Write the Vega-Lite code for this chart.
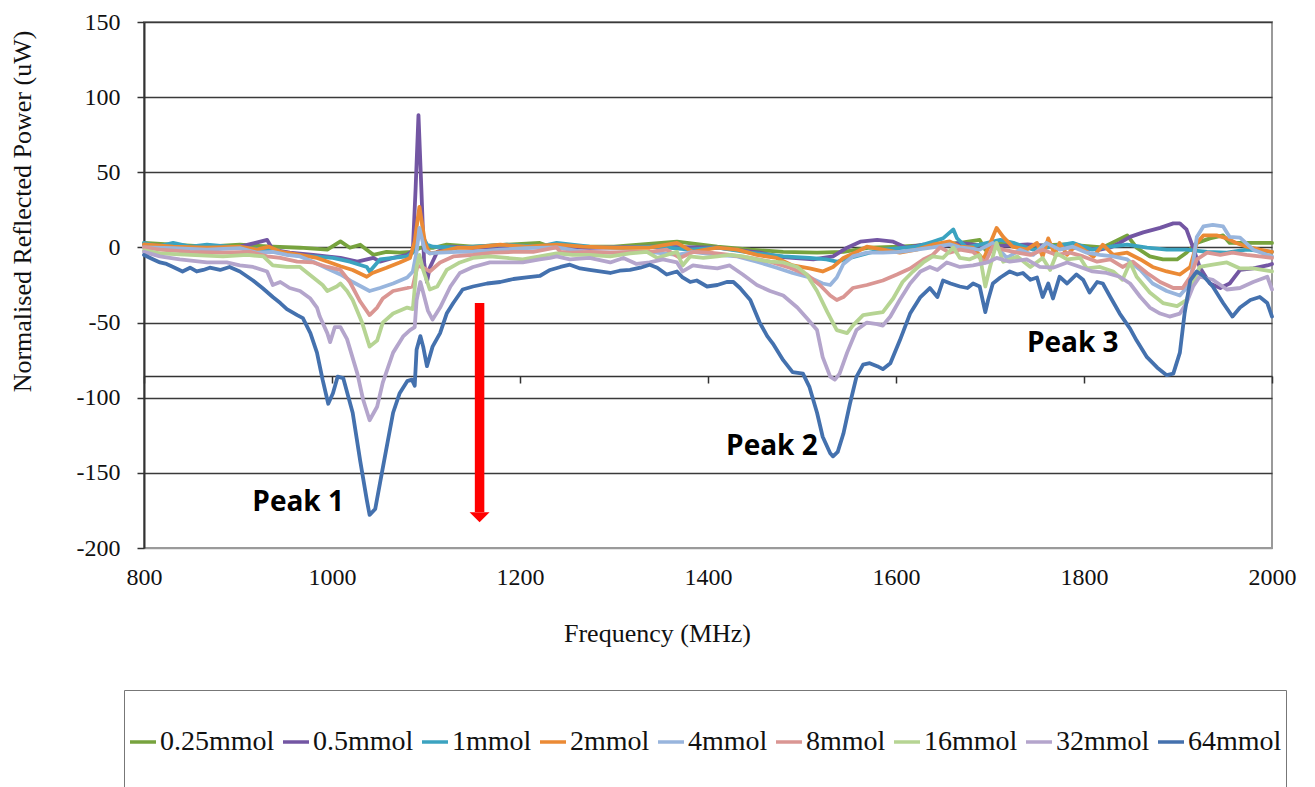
{
"$schema": "https://vega.github.io/schema/vega-lite/v6.json",
"width": 1128, "height": 526,
"autosize": {"type": "none"},
"padding": {"left": 144, "top": 22, "right": 43, "bottom": 239},
"background": "white",
"config": {"view": {"stroke": "#9a9a9a", "strokeWidth": 2}, "font": "Liberation Serif"},
"resolve": {"axis": {"x": "independent"}},
"layer": [
{
"data": {"values": [
{"s":"0.25mmol","f":800,"v":3},{"s":"0.25mmol","f":831,"v":1.8},{"s":"0.25mmol","f":867,"v":0.5},{"s":"0.25mmol","f":902,"v":1.8},{"s":"0.25mmol","f":937,"v":0.5},{"s":"0.25mmol","f":966,"v":-0.2},{"s":"0.25mmol","f":995,"v":-1.5},{"s":"0.25mmol","f":1009,"v":4},{"s":"0.25mmol","f":1019,"v":-0.2},{"s":"0.25mmol","f":1030,"v":1.8},{"s":"0.25mmol","f":1044,"v":-4.9},{"s":"0.25mmol","f":1058,"v":-2.9},{"s":"0.25mmol","f":1072,"v":-3.5},{"s":"0.25mmol","f":1086,"v":-2.9},{"s":"0.25mmol","f":1094,"v":-0.2},{"s":"0.25mmol","f":1108,"v":-0.2},{"s":"0.25mmol","f":1122,"v":1.8},{"s":"0.25mmol","f":1150,"v":0.5},{"s":"0.25mmol","f":1186,"v":1.8},{"s":"0.25mmol","f":1221,"v":3},{"s":"0.25mmol","f":1232,"v":0.5},{"s":"0.25mmol","f":1300,"v":0.5},{"s":"0.25mmol","f":1367,"v":3.8},{"s":"0.25mmol","f":1410,"v":0.5},{"s":"0.25mmol","f":1445,"v":-1.5},{"s":"0.25mmol","f":1480,"v":-2.9},{"s":"0.25mmol","f":1516,"v":-3.5},{"s":"0.25mmol","f":1544,"v":-2.9},{"s":"0.25mmol","f":1572,"v":-0.2},{"s":"0.25mmol","f":1604,"v":0.5},{"s":"0.25mmol","f":1639,"v":1.8},{"s":"0.25mmol","f":1668,"v":3},{"s":"0.25mmol","f":1689,"v":5},{"s":"0.25mmol","f":1695,"v":-1.5},{"s":"0.25mmol","f":1703,"v":3},{"s":"0.25mmol","f":1740,"v":1},{"s":"0.25mmol","f":1780,"v":2},{"s":"0.25mmol","f":1820,"v":0},{"s":"0.25mmol","f":1846,"v":8},{"s":"0.25mmol","f":1856,"v":-0.2},{"s":"0.25mmol","f":1870,"v":-6},{"s":"0.25mmol","f":1884,"v":-8},{"s":"0.25mmol","f":1899,"v":-8},{"s":"0.25mmol","f":1909,"v":-3.5},{"s":"0.25mmol","f":1920,"v":3},{"s":"0.25mmol","f":1934,"v":6},{"s":"0.25mmol","f":1948,"v":8},{"s":"0.25mmol","f":1955,"v":3},{"s":"0.25mmol","f":1970,"v":3},{"s":"0.25mmol","f":1985,"v":3},{"s":"0.25mmol","f":2000,"v":3},

{"s":"0.5mmol","f":800,"v":1.8},{"s":"0.5mmol","f":831,"v":0.5},{"s":"0.5mmol","f":867,"v":-0.2},{"s":"0.5mmol","f":902,"v":0.5},{"s":"0.5mmol","f":931,"v":5},{"s":"0.5mmol","f":937,"v":-1.5},{"s":"0.5mmol","f":955,"v":-3.5},{"s":"0.5mmol","f":980,"v":-4.9},{"s":"0.5mmol","f":1009,"v":-7},{"s":"0.5mmol","f":1027,"v":-9.5},{"s":"0.5mmol","f":1044,"v":-7},{"s":"0.5mmol","f":1051,"v":-9.5},{"s":"0.5mmol","f":1065,"v":-7},{"s":"0.5mmol","f":1080,"v":-4.9},{"s":"0.5mmol","f":1086,"v":-2},{"s":"0.5mmol","f":1089,"v":40},{"s":"0.5mmol","f":1092,"v":88},{"s":"0.5mmol","f":1095,"v":40},{"s":"0.5mmol","f":1098,"v":-10},{"s":"0.5mmol","f":1101,"v":-23},{"s":"0.5mmol","f":1104,"v":-13.5},{"s":"0.5mmol","f":1112,"v":-2.9},{"s":"0.5mmol","f":1126,"v":0.5},{"s":"0.5mmol","f":1150,"v":-0.2},{"s":"0.5mmol","f":1186,"v":0.5},{"s":"0.5mmol","f":1221,"v":0.5},{"s":"0.5mmol","f":1274,"v":-0.2},{"s":"0.5mmol","f":1338,"v":0.5},{"s":"0.5mmol","f":1410,"v":-0.2},{"s":"0.5mmol","f":1455,"v":-3.5},{"s":"0.5mmol","f":1477,"v":-6.2},{"s":"0.5mmol","f":1490,"v":-7},{"s":"0.5mmol","f":1512,"v":-8},{"s":"0.5mmol","f":1533,"v":-6},{"s":"0.5mmol","f":1548,"v":-0.2},{"s":"0.5mmol","f":1562,"v":3.8},{"s":"0.5mmol","f":1580,"v":5},{"s":"0.5mmol","f":1597,"v":3.8},{"s":"0.5mmol","f":1611,"v":-0.2},{"s":"0.5mmol","f":1629,"v":1.8},{"s":"0.5mmol","f":1647,"v":0.5},{"s":"0.5mmol","f":1668,"v":3},{"s":"0.5mmol","f":1700,"v":0.5},{"s":"0.5mmol","f":1740,"v":2},{"s":"0.5mmol","f":1780,"v":0},{"s":"0.5mmol","f":1817,"v":-1.5},{"s":"0.5mmol","f":1828,"v":0},{"s":"0.5mmol","f":1838,"v":3},{"s":"0.5mmol","f":1849,"v":7},{"s":"0.5mmol","f":1863,"v":10},{"s":"0.5mmol","f":1881,"v":13},{"s":"0.5mmol","f":1895,"v":16},{"s":"0.5mmol","f":1902,"v":16},{"s":"0.5mmol","f":1909,"v":12},{"s":"0.5mmol","f":1916,"v":0},{"s":"0.5mmol","f":1923,"v":-13},{"s":"0.5mmol","f":1934,"v":-24},{"s":"0.5mmol","f":1945,"v":-27},{"s":"0.5mmol","f":1955,"v":-24},{"s":"0.5mmol","f":1966,"v":-15},{"s":"0.5mmol","f":1980,"v":-14},{"s":"0.5mmol","f":1995,"v":-12},{"s":"0.5mmol","f":2000,"v":-11},

{"s":"1mmol","f":800,"v":3},{"s":"1mmol","f":815,"v":0.5},{"s":"1mmol","f":831,"v":3},{"s":"1mmol","f":849,"v":0.5},{"s":"1mmol","f":867,"v":1.8},{"s":"1mmol","f":902,"v":-0.2},{"s":"1mmol","f":931,"v":-1.5},{"s":"1mmol","f":955,"v":-5},{"s":"1mmol","f":980,"v":-6},{"s":"1mmol","f":1001,"v":-7},{"s":"1mmol","f":1019,"v":-9.5},{"s":"1mmol","f":1037,"v":-13},{"s":"1mmol","f":1040,"v":-16},{"s":"1mmol","f":1051,"v":-8},{"s":"1mmol","f":1065,"v":-7},{"s":"1mmol","f":1080,"v":-6},{"s":"1mmol","f":1086,"v":-3.5},{"s":"1mmol","f":1094,"v":10},{"s":"1mmol","f":1101,"v":2},{"s":"1mmol","f":1107,"v":0.5},{"s":"1mmol","f":1133,"v":-0.2},{"s":"1mmol","f":1150,"v":0.5},{"s":"1mmol","f":1186,"v":1.8},{"s":"1mmol","f":1221,"v":0.5},{"s":"1mmol","f":1239,"v":3},{"s":"1mmol","f":1274,"v":0.5},{"s":"1mmol","f":1310,"v":-0.2},{"s":"1mmol","f":1346,"v":0.5},{"s":"1mmol","f":1380,"v":-1.5},{"s":"1mmol","f":1410,"v":-0.2},{"s":"1mmol","f":1445,"v":-3.5},{"s":"1mmol","f":1480,"v":-6},{"s":"1mmol","f":1508,"v":-7},{"s":"1mmol","f":1526,"v":-8},{"s":"1mmol","f":1537,"v":-9.5},{"s":"1mmol","f":1551,"v":-7},{"s":"1mmol","f":1572,"v":-3.5},{"s":"1mmol","f":1586,"v":-1.5},{"s":"1mmol","f":1622,"v":0.5},{"s":"1mmol","f":1639,"v":3.8},{"s":"1mmol","f":1650,"v":6},{"s":"1mmol","f":1661,"v":12},{"s":"1mmol","f":1665,"v":6},{"s":"1mmol","f":1675,"v":0},{"s":"1mmol","f":1689,"v":1.8},{"s":"1mmol","f":1711,"v":5},{"s":"1mmol","f":1725,"v":3},{"s":"1mmol","f":1746,"v":-1.5},{"s":"1mmol","f":1767,"v":0.5},{"s":"1mmol","f":1788,"v":3},{"s":"1mmol","f":1809,"v":-1.5},{"s":"1mmol","f":1828,"v":0.5},{"s":"1mmol","f":1846,"v":1.8},{"s":"1mmol","f":1867,"v":-0.2},{"s":"1mmol","f":1888,"v":-1.5},{"s":"1mmol","f":1909,"v":-1.5},{"s":"1mmol","f":1931,"v":-2.9},{"s":"1mmol","f":1952,"v":-3.5},{"s":"1mmol","f":1973,"v":-1.5},{"s":"1mmol","f":2000,"v":-2.9},

{"s":"2mmol","f":800,"v":2},{"s":"2mmol","f":831,"v":0.5},{"s":"2mmol","f":867,"v":-0.2},{"s":"2mmol","f":902,"v":0.5},{"s":"2mmol","f":920,"v":-1.5},{"s":"2mmol","f":933,"v":0.5},{"s":"2mmol","f":946,"v":-3},{"s":"2mmol","f":966,"v":-5},{"s":"2mmol","f":984,"v":-7},{"s":"2mmol","f":998,"v":-10},{"s":"2mmol","f":1009,"v":-12.5},{"s":"2mmol","f":1022,"v":-15},{"s":"2mmol","f":1037,"v":-19.5},{"s":"2mmol","f":1043,"v":-17},{"s":"2mmol","f":1058,"v":-13.5},{"s":"2mmol","f":1072,"v":-10},{"s":"2mmol","f":1083,"v":-7},{"s":"2mmol","f":1088,"v":4},{"s":"2mmol","f":1091,"v":18},{"s":"2mmol","f":1093,"v":27},{"s":"2mmol","f":1096,"v":15},{"s":"2mmol","f":1099,"v":3},{"s":"2mmol","f":1104,"v":-4},{"s":"2mmol","f":1115,"v":-3},{"s":"2mmol","f":1133,"v":-0.2},{"s":"2mmol","f":1150,"v":-0.2},{"s":"2mmol","f":1179,"v":1.8},{"s":"2mmol","f":1207,"v":0.5},{"s":"2mmol","f":1239,"v":1.8},{"s":"2mmol","f":1267,"v":0.5},{"s":"2mmol","f":1303,"v":-0.2},{"s":"2mmol","f":1338,"v":-0.2},{"s":"2mmol","f":1367,"v":3},{"s":"2mmol","f":1384,"v":-3},{"s":"2mmol","f":1410,"v":-0.2},{"s":"2mmol","f":1431,"v":-1.5},{"s":"2mmol","f":1452,"v":-5},{"s":"2mmol","f":1473,"v":-7},{"s":"2mmol","f":1490,"v":-12},{"s":"2mmol","f":1508,"v":-14},{"s":"2mmol","f":1522,"v":-16},{"s":"2mmol","f":1533,"v":-13},{"s":"2mmol","f":1544,"v":-7},{"s":"2mmol","f":1558,"v":-3},{"s":"2mmol","f":1569,"v":0.5},{"s":"2mmol","f":1586,"v":-1.5},{"s":"2mmol","f":1604,"v":-3.5},{"s":"2mmol","f":1622,"v":-1.5},{"s":"2mmol","f":1639,"v":1.8},{"s":"2mmol","f":1657,"v":4},{"s":"2mmol","f":1668,"v":0.5},{"s":"2mmol","f":1682,"v":-0.2},{"s":"2mmol","f":1693,"v":-8},{"s":"2mmol","f":1703,"v":7},{"s":"2mmol","f":1707,"v":13},{"s":"2mmol","f":1714,"v":7},{"s":"2mmol","f":1724,"v":0.5},{"s":"2mmol","f":1739,"v":-1.5},{"s":"2mmol","f":1750,"v":3},{"s":"2mmol","f":1756,"v":-6},{"s":"2mmol","f":1762,"v":6},{"s":"2mmol","f":1769,"v":-4.9},{"s":"2mmol","f":1774,"v":3},{"s":"2mmol","f":1782,"v":-4.9},{"s":"2mmol","f":1792,"v":1.8},{"s":"2mmol","f":1803,"v":-2.9},{"s":"2mmol","f":1810,"v":-6.2},{"s":"2mmol","f":1820,"v":1.8},{"s":"2mmol","f":1831,"v":-4.9},{"s":"2mmol","f":1846,"v":-3.5},{"s":"2mmol","f":1860,"v":-8},{"s":"2mmol","f":1873,"v":-13},{"s":"2mmol","f":1888,"v":-16},{"s":"2mmol","f":1902,"v":-18},{"s":"2mmol","f":1913,"v":-13},{"s":"2mmol","f":1920,"v":3},{"s":"2mmol","f":1927,"v":8},{"s":"2mmol","f":1941,"v":8},{"s":"2mmol","f":1952,"v":6},{"s":"2mmol","f":1962,"v":3},{"s":"2mmol","f":1973,"v":0.5},{"s":"2mmol","f":1987,"v":-1.5},{"s":"2mmol","f":2000,"v":-3},

{"s":"4mmol","f":800,"v":0},{"s":"4mmol","f":831,"v":-0.5},{"s":"4mmol","f":867,"v":-1.5},{"s":"4mmol","f":902,"v":-0.5},{"s":"4mmol","f":920,"v":-3.5},{"s":"4mmol","f":937,"v":-3},{"s":"4mmol","f":952,"v":-5},{"s":"4mmol","f":966,"v":-6},{"s":"4mmol","f":980,"v":-9.5},{"s":"4mmol","f":995,"v":-14},{"s":"4mmol","f":1009,"v":-18},{"s":"4mmol","f":1022,"v":-23},{"s":"4mmol","f":1040,"v":-29},{"s":"4mmol","f":1051,"v":-27},{"s":"4mmol","f":1065,"v":-24},{"s":"4mmol","f":1080,"v":-20},{"s":"4mmol","f":1086,"v":-16},{"s":"4mmol","f":1090,"v":-3},{"s":"4mmol","f":1093,"v":13},{"s":"4mmol","f":1096,"v":5},{"s":"4mmol","f":1099,"v":-2},{"s":"4mmol","f":1104,"v":-4},{"s":"4mmol","f":1115,"v":-3.5},{"s":"4mmol","f":1133,"v":-3},{"s":"4mmol","f":1150,"v":-3},{"s":"4mmol","f":1179,"v":-1.5},{"s":"4mmol","f":1207,"v":-0.5},{"s":"4mmol","f":1239,"v":0},{"s":"4mmol","f":1267,"v":-3},{"s":"4mmol","f":1303,"v":-3.5},{"s":"4mmol","f":1338,"v":-3},{"s":"4mmol","f":1367,"v":-5},{"s":"4mmol","f":1384,"v":-3},{"s":"4mmol","f":1410,"v":-5},{"s":"4mmol","f":1431,"v":-6},{"s":"4mmol","f":1452,"v":-9.5},{"s":"4mmol","f":1473,"v":-13.5},{"s":"4mmol","f":1490,"v":-17},{"s":"4mmol","f":1508,"v":-20},{"s":"4mmol","f":1522,"v":-24},{"s":"4mmol","f":1530,"v":-25},{"s":"4mmol","f":1537,"v":-20},{"s":"4mmol","f":1544,"v":-11},{"s":"4mmol","f":1554,"v":-6},{"s":"4mmol","f":1569,"v":-3.5},{"s":"4mmol","f":1586,"v":-3.5},{"s":"4mmol","f":1604,"v":-3},{"s":"4mmol","f":1622,"v":-1.5},{"s":"4mmol","f":1639,"v":0},{"s":"4mmol","f":1657,"v":2},{"s":"4mmol","f":1668,"v":0},{"s":"4mmol","f":1689,"v":-1.5},{"s":"4mmol","f":1703,"v":3},{"s":"4mmol","f":1718,"v":-7},{"s":"4mmol","f":1732,"v":-1.5},{"s":"4mmol","f":1746,"v":-5},{"s":"4mmol","f":1760,"v":3},{"s":"4mmol","f":1774,"v":-1.5},{"s":"4mmol","f":1788,"v":0.5},{"s":"4mmol","f":1803,"v":-3.5},{"s":"4mmol","f":1817,"v":-5},{"s":"4mmol","f":1831,"v":-6},{"s":"4mmol","f":1846,"v":-8},{"s":"4mmol","f":1860,"v":-15},{"s":"4mmol","f":1873,"v":-24},{"s":"4mmol","f":1888,"v":-29},{"s":"4mmol","f":1902,"v":-32},{"s":"4mmol","f":1913,"v":-24},{"s":"4mmol","f":1920,"v":7},{"s":"4mmol","f":1927,"v":14},{"s":"4mmol","f":1937,"v":15},{"s":"4mmol","f":1948,"v":14},{"s":"4mmol","f":1955,"v":7},{"s":"4mmol","f":1966,"v":6.5},{"s":"4mmol","f":1980,"v":-1.5},{"s":"4mmol","f":1995,"v":-5},{"s":"4mmol","f":2000,"v":-6},

{"s":"8mmol","f":800,"v":0},{"s":"8mmol","f":817,"v":-1.5},{"s":"8mmol","f":849,"v":-3},{"s":"8mmol","f":884,"v":-3.5},{"s":"8mmol","f":913,"v":-3},{"s":"8mmol","f":931,"v":-6},{"s":"8mmol","f":945,"v":-7},{"s":"8mmol","f":963,"v":-9.5},{"s":"8mmol","f":980,"v":-10},{"s":"8mmol","f":995,"v":-13},{"s":"8mmol","f":1009,"v":-15},{"s":"8mmol","f":1019,"v":-23},{"s":"8mmol","f":1030,"v":-36},{"s":"8mmol","f":1040,"v":-45},{"s":"8mmol","f":1048,"v":-40},{"s":"8mmol","f":1054,"v":-34},{"s":"8mmol","f":1065,"v":-29},{"s":"8mmol","f":1080,"v":-27},{"s":"8mmol","f":1086,"v":-26},{"s":"8mmol","f":1091,"v":-12},{"s":"8mmol","f":1097,"v":-13.5},{"s":"8mmol","f":1104,"v":-16},{"s":"8mmol","f":1115,"v":-10},{"s":"8mmol","f":1129,"v":-6},{"s":"8mmol","f":1150,"v":-5},{"s":"8mmol","f":1171,"v":-3.5},{"s":"8mmol","f":1193,"v":-3},{"s":"8mmol","f":1214,"v":-3},{"s":"8mmol","f":1239,"v":0},{"s":"8mmol","f":1243,"v":-3},{"s":"8mmol","f":1253,"v":-3.5},{"s":"8mmol","f":1274,"v":-3},{"s":"8mmol","f":1296,"v":-3.5},{"s":"8mmol","f":1317,"v":-3},{"s":"8mmol","f":1338,"v":-3},{"s":"8mmol","f":1356,"v":-1.5},{"s":"8mmol","f":1370,"v":-7},{"s":"8mmol","f":1384,"v":-3},{"s":"8mmol","f":1402,"v":-3.5},{"s":"8mmol","f":1423,"v":-5},{"s":"8mmol","f":1445,"v":-7},{"s":"8mmol","f":1466,"v":-9.5},{"s":"8mmol","f":1487,"v":-13.5},{"s":"8mmol","f":1505,"v":-18},{"s":"8mmol","f":1519,"v":-25},{"s":"8mmol","f":1530,"v":-32},{"s":"8mmol","f":1537,"v":-35},{"s":"8mmol","f":1544,"v":-33},{"s":"8mmol","f":1554,"v":-27},{"s":"8mmol","f":1569,"v":-25},{"s":"8mmol","f":1586,"v":-22},{"s":"8mmol","f":1601,"v":-18},{"s":"8mmol","f":1615,"v":-14},{"s":"8mmol","f":1629,"v":-8},{"s":"8mmol","f":1639,"v":-5},{"s":"8mmol","f":1647,"v":0},{"s":"8mmol","f":1657,"v":-3.5},{"s":"8mmol","f":1668,"v":-1.5},{"s":"8mmol","f":1682,"v":-3},{"s":"8mmol","f":1695,"v":-10},{"s":"8mmol","f":1703,"v":0.5},{"s":"8mmol","f":1714,"v":-1.5},{"s":"8mmol","f":1729,"v":-3.5},{"s":"8mmol","f":1743,"v":-5},{"s":"8mmol","f":1756,"v":-1.5},{"s":"8mmol","f":1771,"v":-5},{"s":"8mmol","f":1785,"v":-3.5},{"s":"8mmol","f":1799,"v":-6},{"s":"8mmol","f":1814,"v":-9.5},{"s":"8mmol","f":1828,"v":-8},{"s":"8mmol","f":1841,"v":-13},{"s":"8mmol","f":1852,"v":-9.5},{"s":"8mmol","f":1867,"v":-17},{"s":"8mmol","f":1881,"v":-23},{"s":"8mmol","f":1895,"v":-27},{"s":"8mmol","f":1905,"v":-27},{"s":"8mmol","f":1913,"v":-19.5},{"s":"8mmol","f":1920,"v":-8},{"s":"8mmol","f":1931,"v":-3.5},{"s":"8mmol","f":1945,"v":-5},{"s":"8mmol","f":1958,"v":-3.5},{"s":"8mmol","f":1973,"v":-5},{"s":"8mmol","f":1987,"v":-6},{"s":"8mmol","f":2000,"v":-7},

{"s":"16mmol","f":800,"v":-2},{"s":"16mmol","f":817,"v":-4},{"s":"16mmol","f":849,"v":-5},{"s":"16mmol","f":884,"v":-6},{"s":"16mmol","f":910,"v":-5},{"s":"16mmol","f":927,"v":-6},{"s":"16mmol","f":937,"v":-12},{"s":"16mmol","f":952,"v":-13},{"s":"16mmol","f":966,"v":-13},{"s":"16mmol","f":980,"v":-20},{"s":"16mmol","f":990,"v":-25},{"s":"16mmol","f":995,"v":-29},{"s":"16mmol","f":1005,"v":-26},{"s":"16mmol","f":1009,"v":-24},{"s":"16mmol","f":1016,"v":-29},{"s":"16mmol","f":1022,"v":-35},{"s":"16mmol","f":1032,"v":-50},{"s":"16mmol","f":1040,"v":-66},{"s":"16mmol","f":1048,"v":-62},{"s":"16mmol","f":1054,"v":-50},{"s":"16mmol","f":1065,"v":-44},{"s":"16mmol","f":1080,"v":-40},{"s":"16mmol","f":1086,"v":-41},{"s":"16mmol","f":1090,"v":-13},{"s":"16mmol","f":1093,"v":-5},{"s":"16mmol","f":1097,"v":-15},{"s":"16mmol","f":1104,"v":-28},{"s":"16mmol","f":1112,"v":-26},{"s":"16mmol","f":1122,"v":-15},{"s":"16mmol","f":1136,"v":-10},{"s":"16mmol","f":1150,"v":-7},{"s":"16mmol","f":1168,"v":-6},{"s":"16mmol","f":1186,"v":-7},{"s":"16mmol","f":1203,"v":-8},{"s":"16mmol","f":1221,"v":-6},{"s":"16mmol","f":1239,"v":-4},{"s":"16mmol","f":1256,"v":-5},{"s":"16mmol","f":1274,"v":-5},{"s":"16mmol","f":1296,"v":-6},{"s":"16mmol","f":1317,"v":-4},{"s":"16mmol","f":1335,"v":-3},{"s":"16mmol","f":1346,"v":-7},{"s":"16mmol","f":1356,"v":-5},{"s":"16mmol","f":1367,"v":-3},{"s":"16mmol","f":1373,"v":-12},{"s":"16mmol","f":1381,"v":-6},{"s":"16mmol","f":1395,"v":-7},{"s":"16mmol","f":1410,"v":-6},{"s":"16mmol","f":1423,"v":-5},{"s":"16mmol","f":1437,"v":-6},{"s":"16mmol","f":1452,"v":-8},{"s":"16mmol","f":1466,"v":-9.5},{"s":"16mmol","f":1480,"v":-10},{"s":"16mmol","f":1495,"v":-13},{"s":"16mmol","f":1505,"v":-18},{"s":"16mmol","f":1516,"v":-29},{"s":"16mmol","f":1527,"v":-43},{"s":"16mmol","f":1537,"v":-55},{"s":"16mmol","f":1548,"v":-57},{"s":"16mmol","f":1554,"v":-52},{"s":"16mmol","f":1565,"v":-45},{"s":"16mmol","f":1575,"v":-44},{"s":"16mmol","f":1586,"v":-43},{"s":"16mmol","f":1597,"v":-34},{"s":"16mmol","f":1607,"v":-23},{"s":"16mmol","f":1618,"v":-16},{"s":"16mmol","f":1629,"v":-10},{"s":"16mmol","f":1639,"v":-6},{"s":"16mmol","f":1650,"v":-7},{"s":"16mmol","f":1661,"v":0},{"s":"16mmol","f":1668,"v":-7},{"s":"16mmol","f":1678,"v":-8},{"s":"16mmol","f":1689,"v":-5},{"s":"16mmol","f":1695,"v":-26},{"s":"16mmol","f":1700,"v":-13},{"s":"16mmol","f":1707,"v":3},{"s":"16mmol","f":1714,"v":-9.5},{"s":"16mmol","f":1729,"v":-6},{"s":"16mmol","f":1743,"v":-13},{"s":"16mmol","f":1756,"v":-7},{"s":"16mmol","f":1764,"v":-15},{"s":"16mmol","f":1771,"v":-4},{"s":"16mmol","f":1782,"v":-8},{"s":"16mmol","f":1796,"v":-7},{"s":"16mmol","f":1803,"v":-14},{"s":"16mmol","f":1817,"v":-13},{"s":"16mmol","f":1831,"v":-16},{"s":"16mmol","f":1841,"v":-21.5},{"s":"16mmol","f":1849,"v":-10},{"s":"16mmol","f":1856,"v":-19.5},{"s":"16mmol","f":1870,"v":-30},{"s":"16mmol","f":1884,"v":-37},{"s":"16mmol","f":1899,"v":-39},{"s":"16mmol","f":1909,"v":-35},{"s":"16mmol","f":1916,"v":-24},{"s":"16mmol","f":1923,"v":-13},{"s":"16mmol","f":1937,"v":-11.5},{"s":"16mmol","f":1952,"v":-10},{"s":"16mmol","f":1966,"v":-14},{"s":"16mmol","f":1980,"v":-14},{"s":"16mmol","f":2000,"v":-16},

{"s":"32mmol","f":800,"v":-3},{"s":"32mmol","f":817,"v":-6},{"s":"32mmol","f":838,"v":-8},{"s":"32mmol","f":867,"v":-10},{"s":"32mmol","f":888,"v":-10},{"s":"32mmol","f":902,"v":-12},{"s":"32mmol","f":916,"v":-13},{"s":"32mmol","f":931,"v":-16},{"s":"32mmol","f":937,"v":-25},{"s":"32mmol","f":945,"v":-23},{"s":"32mmol","f":955,"v":-27},{"s":"32mmol","f":966,"v":-29},{"s":"32mmol","f":977,"v":-34},{"s":"32mmol","f":984,"v":-40},{"s":"32mmol","f":987,"v":-46},{"s":"32mmol","f":995,"v":-57},{"s":"32mmol","f":998,"v":-63},{"s":"32mmol","f":1003,"v":-53},{"s":"32mmol","f":1009,"v":-53},{"s":"32mmol","f":1016,"v":-61},{"s":"32mmol","f":1027,"v":-84},{"s":"32mmol","f":1033,"v":-101},{"s":"32mmol","f":1040,"v":-115},{"s":"32mmol","f":1048,"v":-106},{"s":"32mmol","f":1054,"v":-90},{"s":"32mmol","f":1065,"v":-70},{"s":"32mmol","f":1076,"v":-59},{"s":"32mmol","f":1083,"v":-55},{"s":"32mmol","f":1088,"v":-53},{"s":"32mmol","f":1090,"v":-35},{"s":"32mmol","f":1094,"v":-23},{"s":"32mmol","f":1097,"v":-30},{"s":"32mmol","f":1102,"v":-42},{"s":"32mmol","f":1107,"v":-48},{"s":"32mmol","f":1115,"v":-40},{"s":"32mmol","f":1126,"v":-26},{"s":"32mmol","f":1136,"v":-17},{"s":"32mmol","f":1150,"v":-13},{"s":"32mmol","f":1168,"v":-10},{"s":"32mmol","f":1186,"v":-10},{"s":"32mmol","f":1203,"v":-10},{"s":"32mmol","f":1221,"v":-8},{"s":"32mmol","f":1232,"v":-7},{"s":"32mmol","f":1239,"v":-6},{"s":"32mmol","f":1253,"v":-8},{"s":"32mmol","f":1274,"v":-7},{"s":"32mmol","f":1296,"v":-10},{"s":"32mmol","f":1310,"v":-7},{"s":"32mmol","f":1324,"v":-11},{"s":"32mmol","f":1338,"v":-10},{"s":"32mmol","f":1352,"v":-8},{"s":"32mmol","f":1367,"v":-10},{"s":"32mmol","f":1373,"v":-16},{"s":"32mmol","f":1384,"v":-12},{"s":"32mmol","f":1395,"v":-13},{"s":"32mmol","f":1410,"v":-14},{"s":"32mmol","f":1423,"v":-12},{"s":"32mmol","f":1437,"v":-18},{"s":"32mmol","f":1452,"v":-25},{"s":"32mmol","f":1466,"v":-29},{"s":"32mmol","f":1480,"v":-32},{"s":"32mmol","f":1495,"v":-40},{"s":"32mmol","f":1505,"v":-47},{"s":"32mmol","f":1516,"v":-55},{"s":"32mmol","f":1522,"v":-73},{"s":"32mmol","f":1530,"v":-86},{"s":"32mmol","f":1535,"v":-88},{"s":"32mmol","f":1540,"v":-84},{"s":"32mmol","f":1548,"v":-70},{"s":"32mmol","f":1558,"v":-55},{"s":"32mmol","f":1569,"v":-50},{"s":"32mmol","f":1580,"v":-51},{"s":"32mmol","f":1586,"v":-52},{"s":"32mmol","f":1594,"v":-46},{"s":"32mmol","f":1604,"v":-35},{"s":"32mmol","f":1615,"v":-24},{"s":"32mmol","f":1626,"v":-16},{"s":"32mmol","f":1636,"v":-13},{"s":"32mmol","f":1644,"v":-15},{"s":"32mmol","f":1654,"v":-10},{"s":"32mmol","f":1668,"v":-13},{"s":"32mmol","f":1682,"v":-12},{"s":"32mmol","f":1697,"v":-10},{"s":"32mmol","f":1707,"v":-7},{"s":"32mmol","f":1721,"v":-9.5},{"s":"32mmol","f":1739,"v":-8},{"s":"32mmol","f":1753,"v":-13},{"s":"32mmol","f":1767,"v":-13.5},{"s":"32mmol","f":1782,"v":-10},{"s":"32mmol","f":1796,"v":-13},{"s":"32mmol","f":1809,"v":-16},{"s":"32mmol","f":1824,"v":-17},{"s":"32mmol","f":1838,"v":-19.5},{"s":"32mmol","f":1849,"v":-24},{"s":"32mmol","f":1860,"v":-33},{"s":"32mmol","f":1870,"v":-40},{"s":"32mmol","f":1881,"v":-44},{"s":"32mmol","f":1891,"v":-46},{"s":"32mmol","f":1902,"v":-44},{"s":"32mmol","f":1909,"v":-37},{"s":"32mmol","f":1916,"v":-26},{"s":"32mmol","f":1923,"v":-19.5},{"s":"32mmol","f":1937,"v":-21.5},{"s":"32mmol","f":1952,"v":-28},{"s":"32mmol","f":1966,"v":-27},{"s":"32mmol","f":1980,"v":-23},{"s":"32mmol","f":1995,"v":-19.5},{"s":"32mmol","f":2000,"v":-28},

{"s":"64mmol","f":800,"v":-5},{"s":"64mmol","f":810,"v":-8},{"s":"64mmol","f":817,"v":-10},{"s":"64mmol","f":824,"v":-11},{"s":"64mmol","f":831,"v":-13},{"s":"64mmol","f":841,"v":-16},{"s":"64mmol","f":849,"v":-13.5},{"s":"64mmol","f":856,"v":-16},{"s":"64mmol","f":863,"v":-15},{"s":"64mmol","f":870,"v":-13.5},{"s":"64mmol","f":881,"v":-15},{"s":"64mmol","f":891,"v":-13},{"s":"64mmol","f":902,"v":-16},{"s":"64mmol","f":909,"v":-19},{"s":"64mmol","f":916,"v":-22},{"s":"64mmol","f":926,"v":-27},{"s":"64mmol","f":937,"v":-33},{"s":"64mmol","f":945,"v":-37},{"s":"64mmol","f":952,"v":-41},{"s":"64mmol","f":963,"v":-45},{"s":"64mmol","f":969,"v":-47},{"s":"64mmol","f":977,"v":-57},{"s":"64mmol","f":984,"v":-70},{"s":"64mmol","f":990,"v":-88},{"s":"64mmol","f":996,"v":-104},{"s":"64mmol","f":1001,"v":-97},{"s":"64mmol","f":1006,"v":-86},{"s":"64mmol","f":1012,"v":-87},{"s":"64mmol","f":1022,"v":-110},{"s":"64mmol","f":1030,"v":-142},{"s":"64mmol","f":1037,"v":-168},{"s":"64mmol","f":1040,"v":-178},{"s":"64mmol","f":1046,"v":-174},{"s":"64mmol","f":1051,"v":-157},{"s":"64mmol","f":1059,"v":-130},{"s":"64mmol","f":1065,"v":-110},{"s":"64mmol","f":1072,"v":-97},{"s":"64mmol","f":1080,"v":-89},{"s":"64mmol","f":1085,"v":-88},{"s":"64mmol","f":1088,"v":-92},{"s":"64mmol","f":1090,"v":-68},{"s":"64mmol","f":1094,"v":-59},{"s":"64mmol","f":1097,"v":-66},{"s":"64mmol","f":1101,"v":-79},{"s":"64mmol","f":1107,"v":-66},{"s":"64mmol","f":1115,"v":-57},{"s":"64mmol","f":1122,"v":-44},{"s":"64mmol","f":1129,"v":-37},{"s":"64mmol","f":1139,"v":-28},{"s":"64mmol","f":1150,"v":-26},{"s":"64mmol","f":1165,"v":-24},{"s":"64mmol","f":1179,"v":-23},{"s":"64mmol","f":1193,"v":-21},{"s":"64mmol","f":1207,"v":-20},{"s":"64mmol","f":1221,"v":-19},{"s":"64mmol","f":1232,"v":-15},{"s":"64mmol","f":1243,"v":-13},{"s":"64mmol","f":1253,"v":-11.5},{"s":"64mmol","f":1264,"v":-14},{"s":"64mmol","f":1274,"v":-15},{"s":"64mmol","f":1285,"v":-16},{"s":"64mmol","f":1296,"v":-17},{"s":"64mmol","f":1306,"v":-15.5},{"s":"64mmol","f":1317,"v":-15},{"s":"64mmol","f":1328,"v":-13.5},{"s":"64mmol","f":1338,"v":-11.5},{"s":"64mmol","f":1346,"v":-13.5},{"s":"64mmol","f":1356,"v":-18},{"s":"64mmol","f":1367,"v":-16},{"s":"64mmol","f":1373,"v":-20},{"s":"64mmol","f":1381,"v":-23},{"s":"64mmol","f":1388,"v":-22},{"s":"64mmol","f":1399,"v":-26},{"s":"64mmol","f":1410,"v":-25},{"s":"64mmol","f":1420,"v":-23},{"s":"64mmol","f":1427,"v":-23},{"s":"64mmol","f":1434,"v":-27},{"s":"64mmol","f":1445,"v":-35},{"s":"64mmol","f":1455,"v":-50},{"s":"64mmol","f":1463,"v":-59},{"s":"64mmol","f":1469,"v":-64},{"s":"64mmol","f":1480,"v":-75},{"s":"64mmol","f":1490,"v":-83},{"s":"64mmol","f":1501,"v":-84},{"s":"64mmol","f":1508,"v":-93},{"s":"64mmol","f":1516,"v":-110},{"s":"64mmol","f":1522,"v":-126},{"s":"64mmol","f":1530,"v":-137},{"s":"64mmol","f":1533,"v":-139},{"s":"64mmol","f":1538,"v":-136},{"s":"64mmol","f":1544,"v":-124},{"s":"64mmol","f":1551,"v":-104},{"s":"64mmol","f":1558,"v":-86},{"s":"64mmol","f":1565,"v":-78},{"s":"64mmol","f":1572,"v":-77},{"s":"64mmol","f":1580,"v":-79},{"s":"64mmol","f":1586,"v":-81},{"s":"64mmol","f":1594,"v":-77},{"s":"64mmol","f":1604,"v":-62},{"s":"64mmol","f":1615,"v":-44},{"s":"64mmol","f":1626,"v":-33},{"s":"64mmol","f":1636,"v":-27},{"s":"64mmol","f":1644,"v":-33},{"s":"64mmol","f":1650,"v":-22},{"s":"64mmol","f":1658,"v":-24},{"s":"64mmol","f":1668,"v":-26},{"s":"64mmol","f":1676,"v":-27},{"s":"64mmol","f":1682,"v":-24},{"s":"64mmol","f":1689,"v":-26},{"s":"64mmol","f":1695,"v":-43},{"s":"64mmol","f":1698,"v":-35},{"s":"64mmol","f":1703,"v":-24},{"s":"64mmol","f":1711,"v":-20},{"s":"64mmol","f":1721,"v":-16},{"s":"64mmol","f":1729,"v":-18},{"s":"64mmol","f":1735,"v":-17},{"s":"64mmol","f":1743,"v":-21.5},{"s":"64mmol","f":1750,"v":-20},{"s":"64mmol","f":1756,"v":-33},{"s":"64mmol","f":1762,"v":-24},{"s":"64mmol","f":1767,"v":-34},{"s":"64mmol","f":1774,"v":-19.5},{"s":"64mmol","f":1782,"v":-24},{"s":"64mmol","f":1792,"v":-18},{"s":"64mmol","f":1799,"v":-21.5},{"s":"64mmol","f":1806,"v":-30},{"s":"64mmol","f":1814,"v":-23},{"s":"64mmol","f":1820,"v":-24},{"s":"64mmol","f":1828,"v":-33},{"s":"64mmol","f":1838,"v":-44},{"s":"64mmol","f":1849,"v":-54},{"s":"64mmol","f":1856,"v":-62},{"s":"64mmol","f":1867,"v":-73},{"s":"64mmol","f":1878,"v":-80},{"s":"64mmol","f":1888,"v":-85},{"s":"64mmol","f":1895,"v":-84},{"s":"64mmol","f":1902,"v":-70},{"s":"64mmol","f":1907,"v":-44},{"s":"64mmol","f":1913,"v":-22},{"s":"64mmol","f":1920,"v":-16},{"s":"64mmol","f":1927,"v":-19},{"s":"64mmol","f":1937,"v":-26},{"s":"64mmol","f":1948,"v":-37},{"s":"64mmol","f":1958,"v":-46},{"s":"64mmol","f":1966,"v":-40},{"s":"64mmol","f":1977,"v":-35},{"s":"64mmol","f":1987,"v":-33},{"s":"64mmol","f":1995,"v":-37},{"s":"64mmol","f":2000,"v":-46}
]},
"mark": {"type": "line", "strokeWidth": 3.8, "strokeJoin": "round", "strokeCap": "round"},
"encoding": {
"x": {"field": "f", "type": "quantitative", "scale": {"domain": [800, 2000], "nice": false, "zero": false},
 "axis": {"orient": "bottom", "offset": -172, "values": [800, 1000, 1200, 1400, 1600, 1800, 2000], "labels": false, "ticks": true, "tickSize": 7, "tickColor": "#333333", "tickWidth": 1.5, "domain": true, "domainColor": "#333333", "domainWidth": 1.5, "grid": false, "title": null}},
"y": {"field": "v", "type": "quantitative", "scale": {"domain": [-200, 150], "nice": false, "zero": false},
 "axis": {"values": [-200, -150, -100, -50, 0, 50, 100, 150], "labelExpr": "'' + datum.value", "grid": true, "gridColor": {"condition": {"test": "datum.value === -200", "value": "#9a9a9a"}, "value": "#3a3a3a"}, "gridWidth": 1.5, "domain": true, "domainColor": "#333333", "domainWidth": 2, "ticks": true, "tickSize": 7, "tickColor": "#333333", "tickWidth": 1.5, "labelFont": "Liberation Serif", "labelFontSize": 24, "labelColor": "#111111", "labelPadding": 17, "labelOverlap": false, "title": "Normalised Reflected Power (uW)", "titleFont": "Liberation Serif", "titleFontSize": 26, "titleFontWeight": "normal", "titleColor": "#111111", "titleX": -122, "titleY": 189, "titleBaseline": "middle", "titleAlign": "center", "titleAngle": -90}},
"color": {"field": "s", "type": "nominal",
 "scale": {"domain": ["0.25mmol", "0.5mmol", "1mmol", "2mmol", "4mmol", "8mmol", "16mmol", "32mmol", "64mmol"],
  "range": ["#77A33E", "#7356A3", "#3BA3C0", "#EB8A35", "#98B5DD", "#DA9693", "#B6D493", "#B4A5CC", "#4471AE"]},
 "legend": {"orient": "none", "legendX": -20, "legendY": 668, "direction": "horizontal", "columns": 9, "title": null, "symbolType": "stroke", "symbolSize": 676, "symbolStrokeWidth": 3.5, "labelFont": "Liberation Serif", "labelFontSize": 28, "labelColor": "#111111", "labelOffset": 2, "labelLimit": 300, "columnPadding": 6, "padding": 4, "clipHeight": 96, "strokeColor": "#777777", "fillColor": "white"}}
}
},
{
"data": {"values": [{"f": 1157, "v": -36.9, "v2": -176}]},
"mark": {"type": "rule", "color": "#FF0000", "strokeWidth": 9.5, "strokeCap": "butt"},
"encoding": {
"x": {"field": "f", "type": "quantitative", "axis": {"orient": "bottom", "values": [800, 1000, 1200, 1400, 1600, 1800, 2000], "labelExpr": "'' + datum.value", "domain": false, "ticks": false, "tickSize": 0, "grid": false, "labelFont": "Liberation Serif", "labelFontSize": 24, "labelColor": "#111111", "labelPadding": 17, "labelFlush": false, "labelOverlap": false, "title": "Frequency (MHz)", "titleFont": "Liberation Serif", "titleFontSize": 26, "titleFontWeight": "normal", "titleColor": "#111111", "titleX": 513, "titleY": 85, "titleBaseline": "middle"}},
"y": {"field": "v", "type": "quantitative"},
"y2": {"field": "v2"}
}
},
{
"data": {"values": [{"f": 1157, "v": -179.5}]},
"mark": {"type": "point", "shape": "M-1,-0.5L1,-0.5L0,0.5Z", "size": 400, "filled": true, "color": "#FF0000", "opacity": 1, "strokeWidth": 0},
"encoding": {
"x": {"field": "f", "type": "quantitative", "axis": null},
"y": {"field": "v", "type": "quantitative"}
}
},
{
"data": {"values": [{"t": "Peak 1", "f": 964, "v": -170}, {"t": "Peak 2", "f": 1468, "v": -133}, {"t": "Peak 3", "f": 1788, "v": -64}]},
"mark": {"type": "text", "font": "Open Sans", "fontWeight": "bold", "fontSize": 28, "align": "center", "baseline": "middle", "color": "#000000"},
"encoding": {
"x": {"field": "f", "type": "quantitative", "axis": null},
"y": {"field": "v", "type": "quantitative"},
"text": {"field": "t"}
}
}
]
}
